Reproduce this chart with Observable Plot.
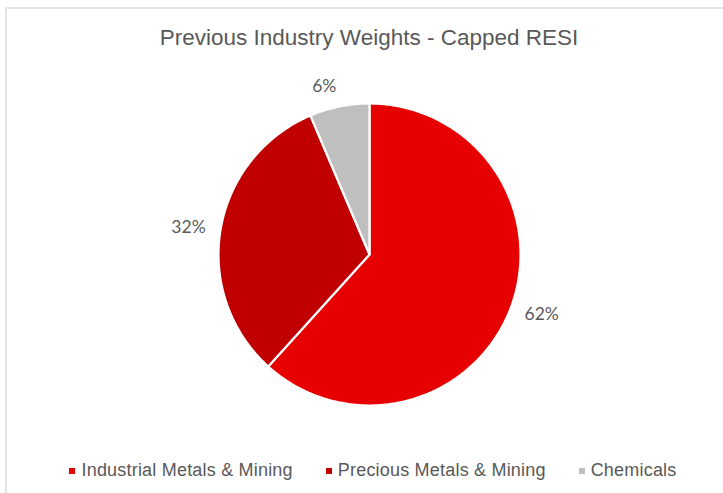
<!DOCTYPE html>
<html>
<head>
<meta charset="utf-8">
<script src="https://cdn.jsdelivr.net/npm/d3@7"></script>
<script src="https://cdn.jsdelivr.net/npm/@observablehq/plot@0.6"></script>
<style>
  body { margin: 0; background: #fff; }
  #wrap { position: relative; width: 723px; height: 493px; overflow: hidden; background: #fff; }
  #frame { position: absolute; left: 5px; top: 7px; width: 730px; height: 500px;
           border-top: 2px solid #e4e4e4; border-left: 2px solid #e4e4e4; }
  #chart { position: absolute; left: 0; top: 0; }
  #title { position: absolute; left: 0; width: 738px; top: 27px; text-align: center;
           font-family: "Liberation Sans", Arial, sans-serif; font-size: 22.5px; line-height: 22px; color: #595959; }
  #legend { position: absolute; left: 0; width: 746px; top: 461px; display: flex; justify-content: center;
            gap: 33px; font-family: "Liberation Sans", Arial, sans-serif; font-size: 18px; line-height: 18px;
            letter-spacing: 0.2px; color: #595959; }
  .item { display: flex; align-items: center; white-space: nowrap; }
  .sw { width: 6px; height: 6px; margin-right: 6px; margin-top: 1px; }
</style>
</head>
<body>
<div id="wrap">
  <div id="frame"></div>
  <div id="chart"></div>
  <div id="title">Previous Industry Weights - Capped RESI</div>
  <div id="legend"></div>
</div>
<script>
// Data
const categories = ["Industrial Metals & Mining", "Precious Metals & Mining", "Chemicals"];
const weights = [61.7, 31.9, 6.4];
const labels = ["62%", "32%", "6%"];
const colors = ["#e60000", "#c00000", "#bfbfbf"];

const slices = d3.pie().sort(null).value(d => d.value)(
  categories.map((name, i) => ({ name, value: weights[i], label: labels[i] }))
);

// Arc outlines from pie angles (0 = top, clockwise)
const outline = [];
slices.forEach(s => {
  outline.push({ name: s.data.name, x: 0, y: 0 });
  const n = Math.max(2, Math.ceil((s.endAngle - s.startAngle) / 0.01));
  for (let k = 0; k <= n; k++) {
    const a = s.startAngle + (s.endAngle - s.startAngle) * k / n;
    outline.push({ name: s.data.name, x: Math.sin(a), y: Math.cos(a) });
  }
});

const labelR = 1.1;
const labelData = slices.map(s => {
  const a = (s.startAngle + s.endAngle) / 2;
  const sx = Math.sin(a), cy = Math.cos(a);
  return {
    label: s.data.label, x: sx * labelR, y: cy * labelR,
    anchor: sx >= 0 ? "start" : "end",
    line: cy > 0.7 ? "bottom" : (cy < -0.7 ? "top" : "middle")
  };
});

const cx = 369, cy0 = 254, R = 151;
const textMark = (anchor, line) => Plot.text(labelData.filter(d => d.anchor === anchor && d.line === line), {
  x: "x", y: "y", text: "label", textAnchor: anchor, lineAnchor: line,
  fill: "#595959", fontSize: 17.5, fontFamily: "Lato, 'Open Sans', sans-serif"
});

const chart = Plot.plot({
  width: 723, height: 493,
  margin: 0,
  style: { background: "transparent", overflow: "visible" },
  x: { domain: [-1, 1], range: [cx - R, cx + R], axis: null },
  y: { domain: [-1, 1], range: [cy0 + R, cy0 - R], axis: null },
  color: { domain: categories, range: colors },
  marks: [
    Plot.line(outline, { x: "x", y: "y", z: "name", fill: "name", stroke: "#ffffff", strokeWidth: 2.2, strokeLinejoin: "round", curve: "linear-closed" }),
    textMark("start", "middle"), textMark("end", "middle"),
    textMark("start", "bottom"), textMark("end", "bottom"),
    textMark("start", "top"), textMark("end", "top")
  ]
});
document.getElementById("chart").appendChild(chart);

const legend = document.getElementById("legend");
categories.forEach((c, i) => {
  const item = document.createElement("div");
  item.className = "item";
  const sw = document.createElement("span");
  sw.className = "sw";
  sw.style.background = colors[i];
  const t = document.createElement("span");
  t.textContent = c;
  item.appendChild(sw); item.appendChild(t);
  legend.appendChild(item);
});
</script>
</body>
</html>
